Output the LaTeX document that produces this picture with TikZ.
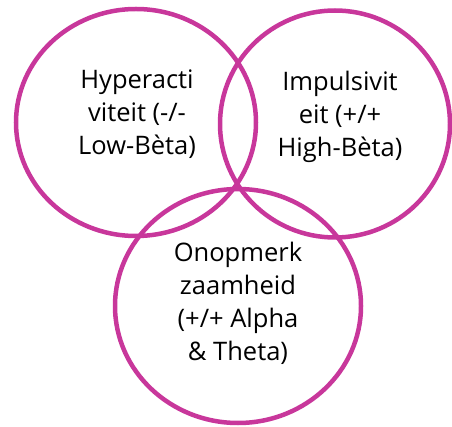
\documentclass[tikz,border=0pt]{standalone}
\usepackage{fontspec}
\setmainfont{Open Sans}
\definecolor{berry}{RGB}{200,55,155}
\tikzset{
  venn/.style={draw=berry, line width=4.5pt},
  lbl/.style={align=center, inner sep=0pt, font=\fontsize{25.5}{33}\selectfont, anchor=base}
}
\begin{document}
\begin{tikzpicture}[x=1pt,y=-1pt]
\useasboundingbox (0,0) rectangle (452,427);
\draw[venn] (136,122.5) ellipse [x radius=120, y radius=113.5];
\draw[venn] (335,124) ellipse [x radius=115, y radius=113.5];
\draw[venn] (238,306) ellipse [x radius=123, y radius=117];
\node[lbl] (hyper) at (137,155) {Hyperacti\\viteit (-/-\\Low-Bèta)};
\node[lbl] (impuls) at (340,157) {Impulsivit\\eit (+/+\\High-Bèta)};
\node[lbl] (onop) at (238,360) {Onopmerk\\zaamheid\\(+/+ Alpha\\\& Theta)};
\end{tikzpicture}
\end{document}
